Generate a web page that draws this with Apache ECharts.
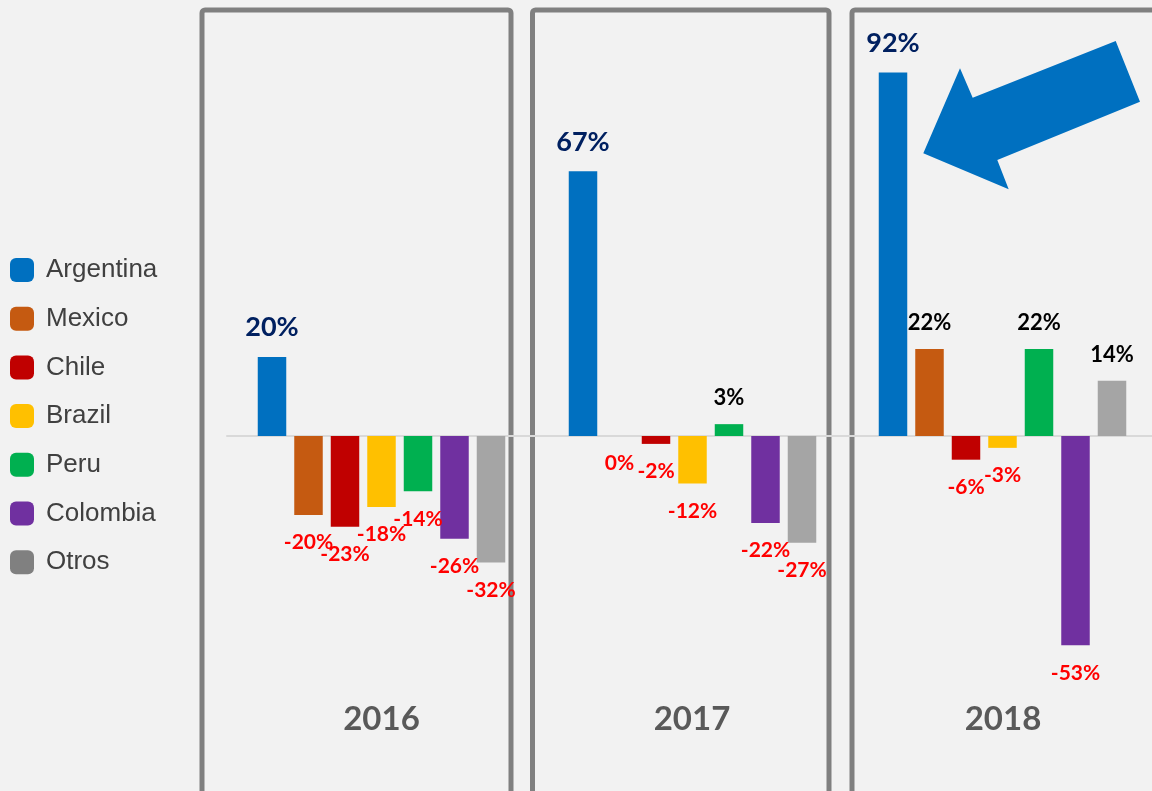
<!DOCTYPE html>
<html>
<head>
<meta charset="utf-8">
<style>
html,body{margin:0;padding:0;background:#f2f2f2;}
#chart{width:1152px;height:791px;}
</style>
<script src="https://cdn.jsdelivr.net/npm/echarts@6/dist/echarts.min.js"></script>
</head>
<body>
<div id="chart"></div>
<script>
const categories = ['Argentina', 'Mexico', 'Chile', 'Brazil', 'Peru', 'Colombia', 'Otros'];
const years = ['2016', '2017', '2018'];
const values2016 = [20, -20, -23, -18, -14, -26, -32];
const values2017 = [67, 0, -2, -12, 3, -22, -27];
const values2018 = [92, 22, -6, -3, 22, -53, 14];
const barColors = ['#0070C0', '#C55A11', '#C00000', '#FFC000', '#00B050', '#7030A0', '#A5A5A5'];
const legendColors = ['#0070C0', '#C55A11', '#C00000', '#FFC000', '#00B050', '#7030A0', '#808080'];
const yearValues = [values2016, values2017, values2018];

const chart = echarts.init(document.getElementById('chart'));

const gridTop = 41, gridHeight = 632;
const panelLefts = [253.75, 564.75, 874.75];
const catWidth = 36.5;

const grids = panelLefts.map(l => ({ left: l, top: gridTop, width: catWidth * 7, height: gridHeight }));
grids.push({ left: 227, top: gridTop, right: 0, height: gridHeight });

const xAxes = [0, 1, 2].map(g => ({
  type: 'category', gridIndex: g, data: categories,
  axisLine: { show: false }, axisTick: { show: false }, axisLabel: { show: false }, splitLine: { show: false }
}));
xAxes.push({
  type: 'category', gridIndex: 3, data: [''],
  axisLine: { show: true, onZero: true, lineStyle: { color: '#d9d9d9', width: 2 } },
  axisTick: { show: false }, axisLabel: { show: false }, splitLine: { show: false }
});
const yAxes = [0, 1, 2, 3].map(g => ({
  type: 'value', gridIndex: g, min: -60, max: 100,
  axisLine: { show: false }, axisTick: { show: false }, axisLabel: { show: false }, splitLine: { show: false }
}));

function labelFor(i, v) {
  if (v > 0 && i === 0) {
    return { show: true, position: 'top', distance: 16, color: '#002060', fontSize: 27, fontWeight: 'bold', fontFamily: 'Lato', formatter: '{c}%' };
  } else if (v > 0) {
    return { show: true, position: 'top', distance: 15, color: '#000000', fontSize: 22, fontWeight: 'bold', fontFamily: 'Lato', formatter: '{c}%' };
  }
  return { show: true, position: 'bottom', distance: 17, color: '#FF0000', fontSize: 21, fontWeight: 'bold', fontFamily: 'Lato', formatter: '{c}%' };
}

const series = [];
yearValues.forEach((vals, g) => {
  categories.forEach((c, i) => {
    series.push({
      name: c, type: 'bar', xAxisIndex: g, yAxisIndex: g,
      barWidth: 28.5, barGap: '-100%',
      itemStyle: { color: barColors[i] },
      data: categories.map((cc, j) => j === i ? { value: vals[i], label: labelFor(i, vals[i]) } : '-'),
      animation: false
    });
  });
});

const boxStyle = { fill: 'none', stroke: '#808080', lineWidth: 5 };
const graphic = [
  { type: 'rect', z: 0, shape: { x: 202, y: 10, width: 309, height: 820, r: 3 }, style: boxStyle },
  { type: 'rect', z: 0, shape: { x: 532.5, y: 10, width: 296.5, height: 820, r: 3 }, style: boxStyle },
  { type: 'rect', z: 0, shape: { x: 852, y: 10, width: 320, height: 820, r: 3 }, style: boxStyle },
  { type: 'polygon', z: 10, shape: { points: [[923.3, 153.3], [960, 68.3], [972.7, 97.7], [1115.7, 41], [1140, 101.7], [997.3, 160], [1008.7, 189.3]] }, style: { fill: '#0070C0' } }
];
const yearCenters = [381.5, 692, 1003];
years.forEach((y, k) => {
  graphic.push({ type: 'text', z: 5, x: yearCenters[k], y: 719, style: { text: y, fill: '#595959', font: 'bold 33px Lato', textAlign: 'center', textVerticalAlign: 'middle' } });
});

chart.setOption({
  backgroundColor: '#f2f2f2',
  animation: false,
  legend: {
    orient: 'vertical', left: 10, top: 257, padding: 0,
    itemWidth: 24, itemHeight: 24, itemGap: 22.7, icon: 'roundRect',
    textStyle: { fontSize: 26, color: '#404040', fontFamily: 'Liberation Sans', lineHeight: 24, padding: [0, 0, 0, 7] },
    data: categories.map((c, i) => ({ name: c, itemStyle: { color: legendColors[i] } }))
  },
  grid: grids,
  xAxis: xAxes,
  yAxis: yAxes,
  series: series,
  graphic: graphic
});
</script>
</body>
</html>
